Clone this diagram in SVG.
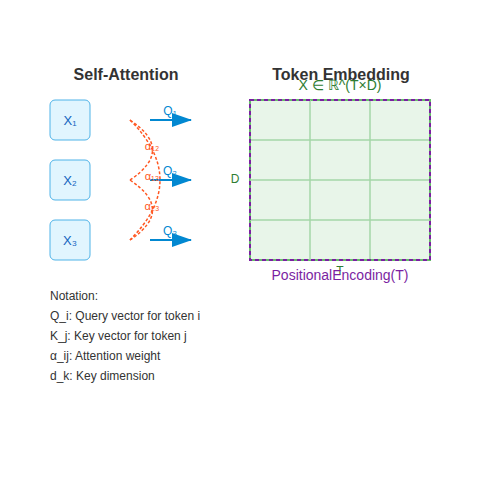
<svg xmlns="http://www.w3.org/2000/svg" width="500" height="500" viewBox="0 0 500 500">
<defs>
<marker id="arr" markerWidth="20" markerHeight="14" refX="19" refY="7" orient="auto" markerUnits="userSpaceOnUse" viewBox="0 0 20 14">
<path d="M0,0 L20,7 L0,14 Z" fill="#0288d1"/>
</marker>
<style>
text{font-family:"Liberation Sans",Arial,sans-serif}
.title{font-size:16px;font-weight:bold;fill:#333;text-anchor:middle}
.tok rect{fill:#e1f5fe;stroke:#4fb3e8;stroke-width:1}
.tok text{font-size:13px;fill:#1565c0;text-anchor:middle}
.q{font-size:12px;fill:#0288d1;text-anchor:middle}
.arrow{stroke:#0288d1;stroke-width:2;fill:none}
.att{stroke:#ff5722;stroke-width:1.5;stroke-dasharray:3,2;fill:none}
.al{font-size:11px;fill:#ff5722;text-anchor:middle}
.grid{stroke:#a5d6a7;stroke-width:1.5}
.green{fill:#2e7d32}
.note{font-size:12px;fill:#333}
</style>
</defs>
<rect width="500" height="500" fill="#ffffff"/>
<text class="title" x="126" y="80">Self-Attention</text>
<text class="title" x="341" y="80">Token Embedding</text>

<g id="token1" class="tok"><rect x="50" y="100" width="40" height="40" rx="5"/><text x="70" y="125">X₁</text></g>
<g id="token2" class="tok"><rect x="50" y="160" width="40" height="40" rx="5"/><text x="70" y="185">X₂</text></g>
<g id="token3" class="tok"><rect x="50" y="220" width="40" height="40" rx="5"/><text x="70" y="245">X₃</text></g>

<g id="connectors">
<path class="att" d="M130,120 Q175,150 130,180"/>
<path class="att" d="M130,180 Q175,210 130,240"/>
<path class="att" d="M130,120 Q190,180 130,240"/>
<line class="arrow" x1="150" y1="120" x2="191" y2="120" marker-end="url(#arr)"/>
<line class="arrow" x1="150" y1="180" x2="191" y2="180" marker-end="url(#arr)"/>
<line class="arrow" x1="150" y1="240" x2="191" y2="240" marker-end="url(#arr)"/>
</g>
<text class="al" x="152" y="150">α₁₂</text>
<text class="al" x="152" y="180">α₁₃</text>
<text class="al" x="152" y="210">α₂₃</text>
<text class="q" x="170" y="115">Q₁</text>
<text class="q" x="170" y="175">Q₂</text>
<text class="q" x="170" y="235">Q₃</text>

<g id="matrix">
<rect x="250" y="100" width="180" height="160" fill="#e8f5e9" stroke="#66bb6a" stroke-width="2"/>
<line class="grid" x1="310" y1="100" x2="310" y2="260"/>
<line class="grid" x1="370" y1="100" x2="370" y2="260"/>
<line class="grid" x1="250" y1="140" x2="430" y2="140"/>
<line class="grid" x1="250" y1="180" x2="430" y2="180"/>
<line class="grid" x1="250" y1="220" x2="430" y2="220"/>
<rect x="250" y="100" width="180" height="160" fill="none" stroke="#7b1fa2" stroke-width="2" stroke-dasharray="4,3"/>
</g>
<text class="green" x="340" y="90" font-size="14" text-anchor="middle">X ∈ ℝ^(T×D)</text>
<text class="green" x="235" y="180" font-size="12" text-anchor="middle" dominant-baseline="middle">D</text>
<text class="green" x="340" y="275" font-size="12" text-anchor="middle">T</text>
<text x="340" y="280" font-size="14" fill="#7b1fa2" text-anchor="middle">PositionalEncoding(T)</text>

<g id="notation">
<text class="note" x="50" y="300">Notation:</text>
<text class="note" x="50" y="320">Q_i: Query vector for token i</text>
<text class="note" x="50" y="340">K_j: Key vector for token j</text>
<text class="note" x="50" y="360">α_ij: Attention weight</text>
<text class="note" x="50" y="380">d_k: Key dimension</text>
</g>
</svg>
